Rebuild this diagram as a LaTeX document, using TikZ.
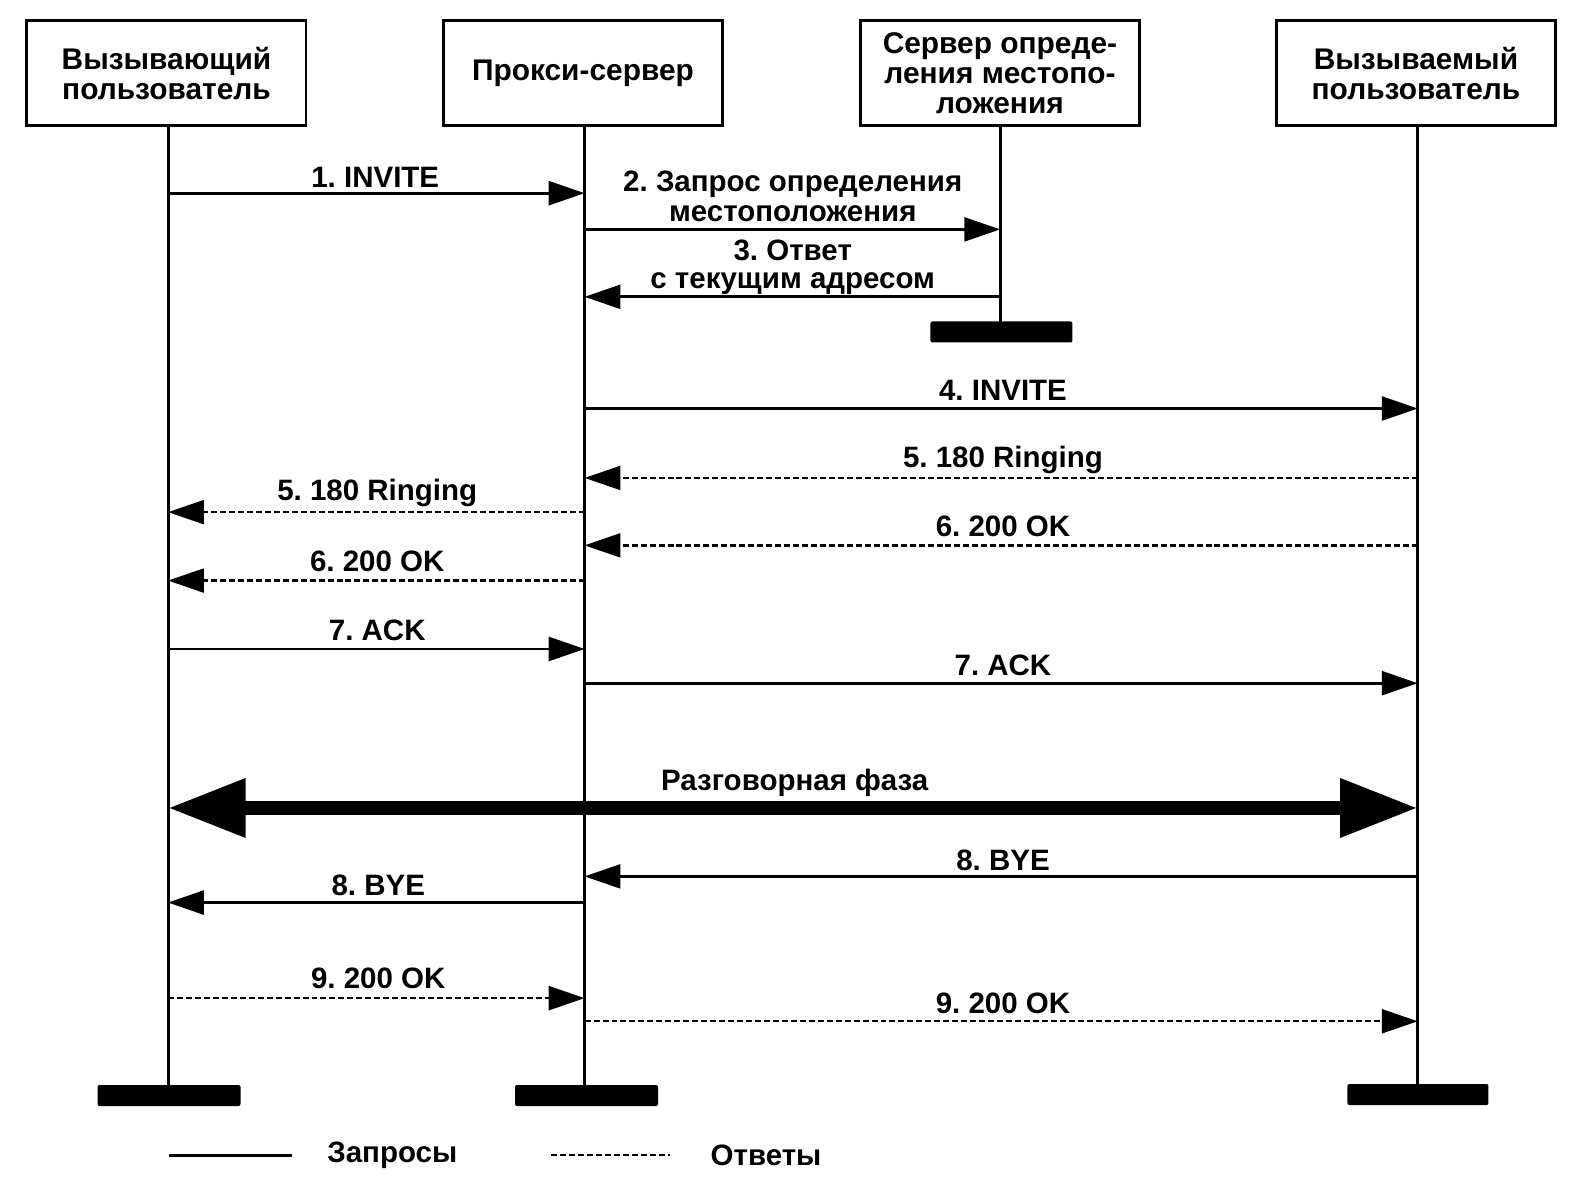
\documentclass[tikz,border=0pt]{standalone}
\usepackage{fontspec}
\setmainfont{Liberation Sans}
\usetikzlibrary{arrows.meta}
\begin{document}
\frenchspacing
\begin{tikzpicture}[x=0.5bp,y=-0.5bp,
  ent/.style={draw,line width=1.5pt,minimum width=139.5bp,minimum height=52.5bp,inner sep=0pt,align=center,font=\fontsize{15}{15}\selectfont\bfseries},
  life/.style={line width=1.5pt},
  endbar/.style={fill=black,rounded corners=1pt},
  req/.style={line width=1.4pt,-{Triangle[length=18pt,width=12pt]}},
  resp/.style={line width=1.2pt,dash pattern=on 3pt off 1.5pt,-{Triangle[length=18pt,width=12pt]}},
  lbl/.style={font=\fontsize{14.8}{14.8}\selectfont\bfseries,inner sep=0pt,align=center},
  talk/.style={line width=7pt,{Triangle[length=39pt,width=28pt]}-{Triangle[length=39pt,width=28pt]}}]
\useasboundingbox (0,0) rectangle (1576,1184);
\begin{scope}[scale=1.006]
% entities
\node[ent] (A) at (165.5,73) {Вызывающий\\пользователь};
\node[ent] (P) at (579.5,73) {Прокси-сервер};
\node[ent] (S) at (994,73) {Сервер опреде-\\ления местопо-\\ложения};
\node[ent] (B) at (1407.5,73) {Вызываемый\\пользователь};
% lifeline ends
\coordinate (Ae) at (167,1080);
\coordinate (Pe) at (581,1080);
\coordinate (Se) at (994,322);
\coordinate (Be) at (1409,1079);
\draw[life] (A.south -| Ae) -- (Ae);
\draw[life] (P.south -| Pe) -- (Pe);
\draw[life] (S.south -| Se) -- (Se);
\draw[life] (B.south -| Be) -- (Be);
\node[endbar,minimum width=71.5bp,minimum height=10.5bp,inner sep=0pt] (Ab) at (168,1089) {};
\node[endbar,minimum width=71.5bp,minimum height=10.5bp,inner sep=0pt] (Pb) at (583,1089) {};
\node[endbar,minimum width=71bp,minimum height=10.5bp,inner sep=0pt] (Sb) at (995.5,330) {};
\node[endbar,minimum width=70.5bp,minimum height=10.5bp,inner sep=0pt] (Bb) at (1409.5,1088) {};
% message endpoints
\foreach \n/\y in {1/192,2/228,3/295,4/406,5/475,6/509,7/542,8/577,9/645,10/679,11/803,12/871,13/897,14/992,15/1015}{
  \coordinate (a\n) at (167,\y);
  \coordinate (p\n) at (581,\y);
  \coordinate (s\n) at (994,\y);
  \coordinate (b\n) at (1409,\y);
}
\draw[req] (a1) -- (p1);
\node[lbl] (l1) at (373,176) {1. INVITE};
\draw[req] (p2) -- (s2);
\node[lbl,font=\fontsize{14.8}{15}\selectfont\bfseries] (l2) at (788,195) {2. Запрос определения\\местоположения};
\draw[req] (s3) -- (p3);
\node[lbl,font=\fontsize{14.8}{14}\selectfont\bfseries] (l3) at (788,266) {3. Ответ\\с текущим адресом};
\draw[req] (p4) -- (b4);
\node[lbl] (l4) at (997,388) {4. INVITE};
\draw[resp] (b5) -- (p5);
\node[lbl] (l5) at (997,457) {5. 180 Ringing};
\draw[resp] (p6) -- (a6);
\node[lbl] (l6) at (375,490) {5. 180 Ringing};
\draw[resp] (b7) -- (p7);
\node[lbl] (l7) at (997,523) {6. 200 OK};
\draw[resp] (p8) -- (a8);
\node[lbl] (l8) at (375,558) {6. 200 OK};
\draw[req] (a9) -- (p9);
\node[lbl] (l9) at (375,627) {7. ACK};
\draw[req] (p10) -- (b10);
\node[lbl] (l10) at (997,661) {7. ACK};
\draw[talk] (a11) -- (b11);
\node[lbl] (l11) at (790,778) {Разговорная фаза};
\draw[req] (b12) -- (p12);
\node[lbl] (l12) at (997,855) {8. BYE};
\draw[req] (p13) -- (a13);
\node[lbl] (l13) at (376,880) {8. BYE};
\draw[resp] (a14) -- (p14);
\node[lbl] (l14) at (376,973) {9. 200 OK};
\draw[resp] (p15) -- (b15);
\node[lbl] (l15) at (997,997) {9. 200 OK};
% legend
\coordinate (g1) at (168,1148);
\coordinate (g2) at (290,1148);
\coordinate (g3) at (548,1148);
\coordinate (g4) at (666,1148);
\draw[line width=1.4pt] (g1) -- (g2);
\node[lbl,anchor=west] (gq) at (325,1148) {Запросы};
\draw[line width=1.2pt,dash pattern=on 3pt off 1.5pt] (g3) -- (g4);
\node[lbl,anchor=west] (ga) at (706,1148) {Ответы};
\end{scope}
\end{tikzpicture}
\end{document}
